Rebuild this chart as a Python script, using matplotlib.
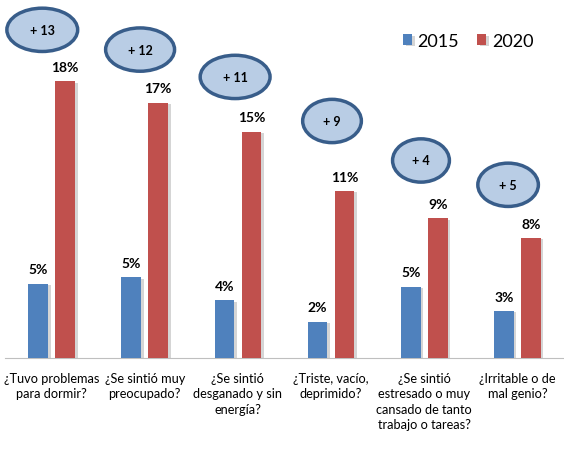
import numpy as np
import matplotlib.pyplot as plt
from matplotlib.patches import Ellipse
import matplotlib.patheffects as pe

plt.rcParams['font.family'] = ['Lato', 'DejaVu Sans']

categories = ['¿Tuvo problemas\npara dormir?',
              '¿Se sintió muy\npreocupado?',
              '¿Se sintió\ndesganado y sin\nenergía?',
              '¿Triste, vacío,\ndeprimido?',
              '¿Se sintió\nestresado o muy\ncansado de tanto\ntrabajo o tareas?',
              '¿Irritable o de\nmal genio?']
h2015 = [4.9, 5.3, 3.8, 2.4, 4.7, 3.1]
h2020 = [18.2, 16.8, 14.9, 11.0, 9.2, 7.9]
lab2015 = [5, 5, 4, 2, 5, 3]
lab2020 = [18, 17, 15, 11, 9, 8]
diffs = [b - a for a, b in zip(lab2015, lab2020)]

blue = '#4f81bd'
red = '#c0504d'

fig = plt.figure(figsize=(5.64, 4.6), dpi=100)
ax = fig.add_axes([5/564, 101/460, 559/564, 354/460])

x = np.arange(len(categories))
w = 0.21
off = 0.145
shadow = [pe.SimplePatchShadow(offset=(2, -1), shadow_rgbFace='#888888', alpha=0.35), pe.Normal()]
b1 = ax.bar(x - off, h2015, w, color=blue, label='2015', zorder=3)
b2 = ax.bar(x + off, h2020, w, color=red, label='2020', zorder=3)
for r in list(b1) + list(b2):
    r.set_path_effects(shadow)

for xi, h, l in zip(x - off, h2015, lab2015):
    ax.annotate(f'{l}%', (xi, h), xytext=(0, 6), textcoords='offset points',
                ha='center', va='bottom', fontsize=10, fontweight='bold')
for xi, h, l in zip(x + off, h2020, lab2020):
    ax.annotate(f'{l}%', (xi, h), xytext=(0, 6), textcoords='offset points',
                ha='center', va='bottom', fontsize=10, fontweight='bold')

# ellipse callouts with the difference
ell_dx = [-0.10, -0.05, -0.03, 0.01, -0.035, -0.10]
ell_y = [21.6, 20.3, 18.5, 15.6, 13.0, 11.4]
ell_w = [0.76, 0.74, 0.75, 0.63, 0.61, 0.65]
for xi, dx, ey, ew, d in zip(x, ell_dx, ell_y, ell_w, diffs):
    e = Ellipse((xi + dx, ey), ew, 2.85, facecolor='#b9cde5', edgecolor='#385d8a',
                linewidth=2.5, zorder=4, clip_on=False)
    ax.add_patch(e)
    ax.text(xi + dx, ey, f'+ {d}', ha='center', va='center', fontsize=9,
            fontweight='bold', zorder=5)

ax.set_xlim(-0.5, len(categories) - 0.5)
ax.set_ylim(0, 23.3)
ax.set_xticks(x)
ax.set_xticklabels(categories, fontsize=9.2, linespacing=1.35)
ax.tick_params(axis='x', length=0, pad=10)
ax.set_yticks([])
for s in ['top', 'right', 'left']:
    ax.spines[s].set_visible(False)
ax.spines['bottom'].set_color('#bfbfbf')

ax.legend(loc='center left', bbox_to_anchor=(396/564, 1 - 42/460), bbox_transform=fig.transFigure,
          frameon=False, ncol=2, fontsize=13, handlelength=0.5, handleheight=0.5,
          handletextpad=0.3, columnspacing=1.0, borderaxespad=0)

fig.savefig('out.png', dpi=100)
